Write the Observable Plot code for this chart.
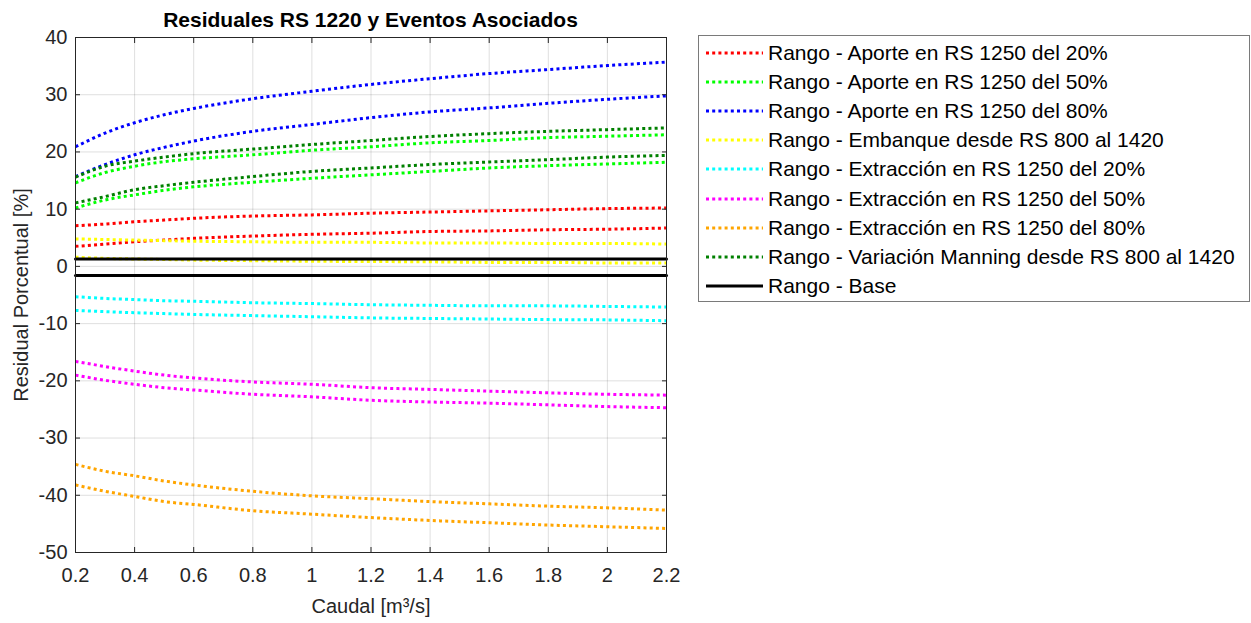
<!DOCTYPE html>
<html>
<head>
<meta charset="utf-8">
<script src="https://cdn.jsdelivr.net/npm/d3@7"></script>
<script src="https://cdn.jsdelivr.net/npm/@observablehq/plot@0.6"></script>
<style>
  html, body { margin: 0; padding: 0; background: #fff; }
  body { width: 1251px; height: 623px; position: relative; overflow: hidden;
         font-family: "Liberation Sans", Arial, Helvetica, sans-serif; color: #262626; }
  #chart { position: absolute; left: 0; top: 0; }
  #title { position: absolute; top: 8px; left: 75px; width: 591px; text-align: center; line-height: normal;
           font-weight: bold; font-size: 21px; color: #000; white-space: nowrap; }
  #legend { position: absolute; left: 698px; top: 35px; width: 552px; height: 267px;
            border: 1px solid #7a7a7a; box-sizing: border-box; background: #fff; }
  .row { position: absolute; left: 0; height: 29px; display: flex; align-items: center; white-space: nowrap; }
  .row svg { margin-left: 7px; margin-right: 5px; }
  .row span { font-size: 21px; color: #000; }
</style>
</head>
<body>
<div id="chart"></div>
<div id="title">Residuales RS 1220 y Eventos Asociados</div>
<div id="legend"></div>
<script>
// ---- data ----
const caudal = [0.2, 0.3, 0.4, 0.5, 0.6, 0.8, 1.0, 1.2, 1.4, 1.6, 1.8, 2.0, 2.2];

const aporte20Sup = [7.1, 7.4, 7.8, 8.1, 8.4, 8.8, 9.0, 9.3, 9.5, 9.7, 9.9, 10.1, 10.2];
const aporte20Inf = [3.5, 3.9, 4.3, 4.6, 4.9, 5.3, 5.6, 5.8, 6.1, 6.2, 6.4, 6.5, 6.7];
const aporte50Sup = [14.6, 16.4, 17.5, 18.3, 18.8, 19.5, 20.3, 20.9, 21.6, 22.0, 22.5, 22.75, 23.0];
const aporte50Inf = [10.2, 11.6, 12.5, 13.3, 13.9, 14.7, 15.4, 16.0, 16.6, 17.2, 17.6, 17.9, 18.2];
const aporte80Sup = [20.9, 23.3, 25.1, 26.5, 27.6, 29.3, 30.6, 31.8, 32.8, 33.7, 34.4, 35.1, 35.7];
const aporte80Inf = [15.7, 17.8, 19.5, 20.8, 21.9, 23.6, 24.8, 26.0, 27.0, 27.7, 28.5, 29.2, 29.8];
const embanqueSup = [4.8, 4.7, 4.6, 4.5, 4.4, 4.3, 4.2, 4.2, 4.1, 4.1, 4.0, 4.0, 3.9];
const embanqueInf = [1.6, 1.4, 1.3, 1.2, 1.1, 1.0, 0.9, 0.85, 0.8, 0.7, 0.7, 0.6, 0.6];
const extr20Sup = [-5.3, -5.6, -5.8, -6.0, -6.1, -6.35, -6.5, -6.7, -6.8, -6.9, -6.9, -7.0, -7.1];
const extr20Inf = [-7.7, -7.9, -8.1, -8.25, -8.4, -8.6, -8.8, -9.0, -9.1, -9.2, -9.3, -9.35, -9.5];
const extr50Sup = [-16.6, -17.5, -18.3, -19.0, -19.5, -20.2, -20.6, -21.2, -21.5, -21.8, -22.1, -22.35, -22.5];
const extr50Inf = [-19.0, -19.9, -20.6, -21.2, -21.6, -22.35, -22.8, -23.4, -23.7, -23.9, -24.2, -24.5, -24.7];
const extr80Sup = [-34.6, -35.8, -36.6, -37.5, -38.2, -39.3, -40.1, -40.6, -41.1, -41.5, -41.9, -42.2, -42.6];
const extr80Inf = [-38.2, -39.3, -40.2, -41.1, -41.6, -42.7, -43.3, -43.9, -44.4, -44.8, -45.2, -45.5, -45.8];
const manningSup = [15.6, 17.5, 18.4, 19.1, 19.7, 20.5, 21.3, 22.0, 22.7, 23.2, 23.6, 23.9, 24.2];
const manningInf = [11.1, 12.2, 13.4, 14.1, 14.7, 15.7, 16.6, 17.2, 17.8, 18.25, 18.65, 19.1, 19.4];
const baseSup = [1.3, 1.3, 1.3, 1.3, 1.3, 1.3, 1.3, 1.3, 1.3, 1.3, 1.3, 1.3, 1.3];
const baseInf = [-1.6, -1.6, -1.6, -1.6, -1.6, -1.6, -1.6, -1.6, -1.6, -1.6, -1.6, -1.6, -1.6];

const seriesNames = [
  "Rango - Aporte en RS 1250 del 20%",
  "Rango - Aporte en RS 1250 del 50%",
  "Rango - Aporte en RS 1250 del 80%",
  "Rango - Embanque desde RS 800 al 1420",
  "Rango - Extracción en RS 1250 del 20%",
  "Rango - Extracción en RS 1250 del 50%",
  "Rango - Extracción en RS 1250 del 80%",
  "Rango - Variación Manning desde RS 800 al 1420",
  "Rango - Base"
];
const seriesColors = ["#ff0000", "#00ff00", "#0000ff", "#ffff00", "#00ffff", "#ff00ff", "#ffa500", "#008000", "#000000"];
const seriesBands = [
  [aporte20Sup, aporte20Inf],
  [aporte50Sup, aporte50Inf],
  [aporte80Sup, aporte80Inf],
  [embanqueSup, embanqueInf],
  [extr20Sup, extr20Inf],
  [extr50Sup, extr50Inf],
  [extr80Sup, extr80Inf],
  [manningSup, manningInf],
  [baseSup, baseInf]
];
const xTicks = [0.2, 0.4, 0.6, 0.8, 1, 1.2, 1.4, 1.6, 1.8, 2, 2.2];
const yTicks = [-50, -40, -30, -20, -10, 0, 10, 20, 30, 40];

// ---- build rows ----
const dotted = [], solid = [];
seriesBands.forEach((bands, i) => {
  bands.forEach((vals, b) => {
    vals.forEach((v, k) => (i === 8 ? solid : dotted).push({x: caudal[k], y: v, key: i + "-" + b, color: seriesColors[i]}));
  });
});

const axisColor = "#262626";
const dash = "3,3.2";
const chart = Plot.plot({
  width: 690,
  height: 623,
  marginLeft: 75,
  marginRight: 24,
  marginTop: 37,
  marginBottom: 71,
  style: {fontSize: "20px", fontFamily: "'Liberation Sans', Arial, sans-serif", color: axisColor, background: "transparent"},
  x: {domain: [0.2, 2.2]},
  y: {domain: [-50, 40]},
  color: {type: "identity"},
  marks: [
    Plot.gridX(xTicks, {stroke: axisColor, strokeOpacity: 0.15}),
    Plot.gridY(yTicks, {stroke: axisColor, strokeOpacity: 0.15}),
    Plot.line(dotted, {x: "x", y: "y", z: "key", stroke: "color", strokeWidth: 3, strokeDasharray: dash, strokeLinecap: "butt", curve: "monotone-x", ariaDescription: "dotted-line"}),
    Plot.line(solid, {x: "x", y: "y", z: "key", stroke: "color", strokeWidth: 3}),
    Plot.frame({stroke: axisColor}),
    Plot.axisX(xTicks, {anchor: "bottom", tickSize: -5, tickPadding: 20, fontSize: 20, tickFormat: d => String(d), stroke: axisColor, fill: axisColor,
      label: "Caudal [m³/s]", labelAnchor: "center", labelArrow: "none", labelOffset: 60}),
    Plot.axisX(xTicks, {anchor: "top", tickSize: -5, tickFormat: () => "", stroke: axisColor, label: null}),
    Plot.axisY(yTicks, {anchor: "left", tickSize: -5, tickPadding: 13, fontSize: 20, tickFormat: d => String(d), stroke: axisColor, fill: axisColor,
      label: "Residual Porcentual [%]", labelAnchor: "center", labelArrow: "none", labelOffset: 62}),
    Plot.axisY(yTicks, {anchor: "right", tickSize: -5, tickFormat: () => "", stroke: axisColor, label: null})
  ]
});
d3.select(chart).selectAll("g[aria-description='dotted-line'] path")
  .attr("stroke-dasharray", dash).attr("stroke-linecap", "butt");
document.getElementById("chart").appendChild(chart);

// ---- legend ----
const legend = document.getElementById("legend");
seriesNames.forEach((name, i) => {
  const row = document.createElement("div");
  row.className = "row";
  row.style.top = (2 + i * 29.2) + "px";
  const base = i === 8;
  row.innerHTML = `<svg width="57" height="6"><line x1="0" x2="57" y1="3" y2="3" stroke="${seriesColors[i]}" stroke-width="3" ${base ? "" : `stroke-dasharray="${dash}"`}/></svg><span>${name}</span>`;
  legend.appendChild(row);
});
</script>
</body>
</html>
